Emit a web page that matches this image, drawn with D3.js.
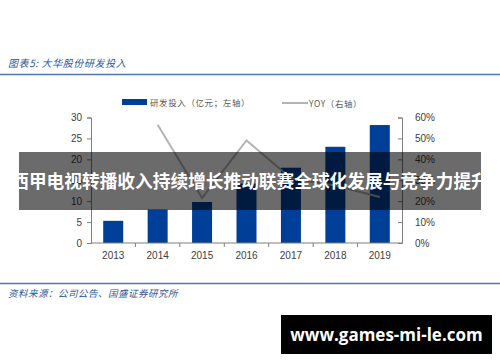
<!DOCTYPE html>
<html><head><meta charset="utf-8">
<script src="https://cdn.jsdelivr.net/npm/d3@7/dist/d3.min.js"></script>
<style>body{margin:0;background:#fff}svg{display:block}</style>
</head><body>
<script>
const categories = ["2013","2014","2015","2016","2017","2018","2019"];
const rdValues = [5.3, 8.0, 9.8, 14.2, 18.0, 23.0, 28.2];
const yoyValues = [null, 0.565, 0.215, 0.49, 0.31, 0.275, 0.22];
const leftTicks = [0,5,10,15,20,25,30];
const rightTicks = [0,0.1,0.2,0.3,0.4,0.5,0.6];
const titleText = "图表5:  大华股份研发投入";
const sourceText = "资料来源：公司公告、国盛证券研究所";
const legendBar = "研发投入（亿元；左轴）";
const legendLine = "YOY（右轴）";
const bannerText = "西甲电视转播收入持续增长推动联赛全球化发展与竞争力提升";
const watermark = "www.games-mi-le.com";

const W = 500, H = 362;
const svg = d3.select("body").append("svg").attr("width", W).attr("height", H);
const cjk = "'Noto Sans CJK SC', sans-serif";
const lat = "'Liberation Sans', Arial, sans-serif";

// header
svg.append("text").attr("x", 8).attr("y", 67).text(titleText)
  .attr("font-family", cjk).attr("font-size", 10).attr("font-style", "italic")
  .attr("letter-spacing", 0.6).attr("fill", "#2f5597");
svg.append("line").attr("x1", 0).attr("x2", W).attr("y1", 74.5).attr("y2", 74.5)
  .attr("stroke", "#4f76b8").attr("stroke-width", 1.5);
svg.append("line").attr("x1", 0).attr("x2", W).attr("y1", 283.5).attr("y2", 283.5)
  .attr("stroke", "#4f76b8").attr("stroke-width", 1.5);
svg.append("text").attr("x", 8).attr("y", 297).text(sourceText)
  .attr("font-family", cjk).attr("font-size", 9.5).attr("font-style", "italic")
  .attr("letter-spacing", 0.5).attr("fill", "#2f5597");

const xb = d3.scaleBand().domain(categories).range([91, 402]);
const yL = d3.scaleLinear().domain([0, 30]).range([243, 117.5]);
const yR = d3.scaleLinear().domain([0, 0.6]).range([243, 117.5]);

// bars
svg.append("g").selectAll("rect").data(rdValues).join("rect")
  .attr("x", (d, i) => xb(categories[i]) + xb.bandwidth()/2 - 10)
  .attr("width", 20)
  .attr("y", d => yL(d)).attr("height", d => yL(0) - yL(d))
  .attr("fill", "#003f98");

// line
const line = d3.line().defined(d => d != null)
  .x((d, i) => xb(categories[i]) + xb.bandwidth()/2).y(d => yR(d));
svg.append("path").datum(yoyValues).attr("d", line)
  .attr("fill", "none").attr("stroke", "#b4b4b4").attr("stroke-width", 2);

// axes
const axisColor = "#7f7f7f";
const gL = svg.append("g").attr("transform", "translate(91,0)")
  .call(d3.axisLeft(yL).tickValues(leftTicks).tickSize(4).tickPadding(5));
const gR = svg.append("g").attr("transform", "translate(402,0)")
  .call(d3.axisRight(yR).tickValues(rightTicks).tickFormat(d3.format(".0%")).tickSize(-4).tickPadding(13));
const gB = svg.append("g").attr("transform", "translate(0,243)")
  .call(d3.axisBottom(xb).tickSize(0).tickPadding(9));
svg.append("g").selectAll("line").data(categories.slice(1)).join("line")
  .attr("x1", d => xb(d)).attr("x2", d => xb(d)).attr("y1", 243).attr("y2", 247)
  .attr("stroke", axisColor);
[gL, gR, gB].forEach(g => {
  g.selectAll("path.domain").attr("stroke", axisColor);
  g.selectAll(".tick line").attr("stroke", axisColor);
  g.selectAll("text").attr("font-family", lat).attr("font-size", 10).attr("fill", "#404040");
});
gB.select("path.domain").attr("d", "M91,0H402");

// legend
svg.append("rect").attr("x", 122).attr("y", 99).attr("width", 25).attr("height", 6).attr("fill", "#003f98");
svg.append("text").attr("x", 150).attr("y", 105.5).text(legendBar)
  .attr("font-family", cjk).attr("font-size", 8.5).attr("letter-spacing", 0.6).attr("fill", "#595959");
svg.append("line").attr("x1", 282).attr("x2", 308).attr("y1", 103).attr("y2", 103)
  .attr("stroke", "#b4b4b4").attr("stroke-width", 2);
svg.append("text").attr("x", 309).attr("y", 106.5).text(legendLine)
  .attr("font-family", cjk).attr("font-size", 8.5).attr("letter-spacing", 0.6).attr("fill", "#595959");

// banner overlay
svg.append("rect").attr("x", 19).attr("y", 152).attr("width", 462).attr("height", 58)
  .attr("fill", "#000").attr("fill-opacity", 0.58);
svg.append("text").attr("x", 250).attr("y", 188).attr("text-anchor", "middle").text(bannerText)
  .attr("font-family", cjk).attr("font-weight", "bold").attr("font-size", 17.7).attr("fill", "#fff");

// watermark
svg.append("rect").attr("x", 281).attr("y", 315).attr("width", 211).attr("height", 39).attr("fill", "#000");
svg.append("text").attr("x", 386.5).attr("y", 340.5).attr("text-anchor", "middle").text(watermark)
  .attr("font-family", "'Open Sans', 'DejaVu Sans', sans-serif").attr("font-weight", "bold")
  .attr("font-size", 17).attr("fill", "#fff");
</script>
</body></html>
